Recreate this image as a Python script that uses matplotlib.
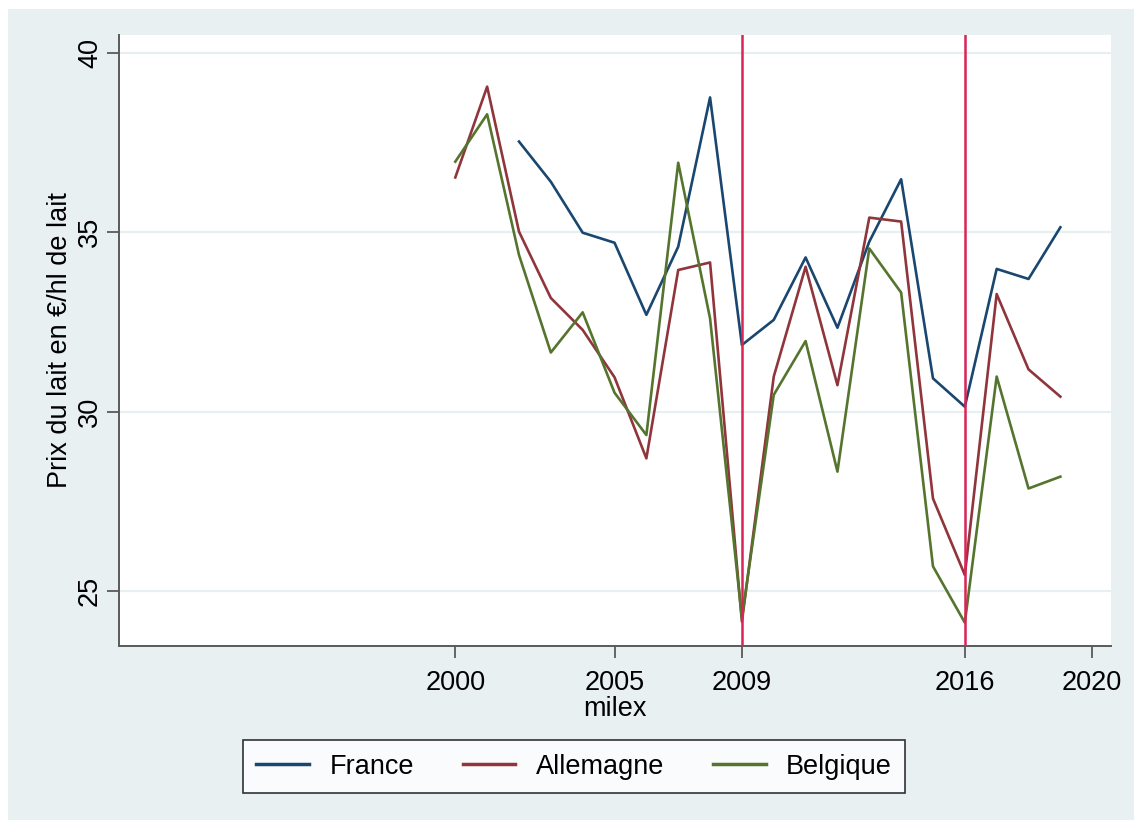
import numpy as np
import matplotlib
matplotlib.use('Agg')
import matplotlib.pyplot as plt
from matplotlib.patches import Rectangle

# ── Data (prix du lait, €/hl) ─────────────────────────────────
years_fr = [2002, 2003, 2004, 2005, 2006, 2007, 2008, 2009, 2010, 2011,
            2012, 2013, 2014, 2015, 2016, 2017, 2018, 2019]
france = [37.53, 36.41, 34.99, 34.71, 32.70, 34.60, 38.76, 31.86, 32.56, 34.30,
          32.34, 34.74, 36.48, 30.93, 30.14, 33.98, 33.70, 35.14]

years_de = [2000, 2001, 2002, 2003, 2004, 2005, 2006, 2007, 2008, 2009,
            2010, 2011, 2012, 2013, 2014, 2015, 2016, 2017, 2018, 2019]
allemagne = [36.53, 39.06, 35.02, 33.17, 32.28, 30.96, 28.70, 33.95, 34.16, 24.15,
             30.98, 34.04, 30.74, 35.41, 35.30, 27.58, 25.45, 33.28, 31.18, 30.42]
belgique = [36.97, 38.29, 34.37, 31.65, 32.77, 30.53, 29.35, 36.94, 32.60, 24.25,
            30.47, 31.97, 28.33, 34.55, 33.32, 25.69, 24.12, 30.98, 27.86, 28.19]

crises = [2009, 2016]
xticks = [2000, 2005, 2009, 2016, 2020]
yticks = [25, 30, 35, 40]

# ── Style ─────────────────────────────────────────────────────
plt.rcParams['font.family'] = ['Liberation Sans', 'DejaVu Sans']
FS = 19.5
C_FR, C_DE, C_BE = '#1a476f', '#90353b', '#55752f'
C_VL = '#db2456'
BG = '#e8f0f2'

fig = plt.figure(figsize=(11.34, 8.23), dpi=100, facecolor='white')
fig.patches.append(Rectangle((8/1134, 3/823), 1 - 8/1134, 1 - 12/823,
                             transform=fig.transFigure, fc=BG, ec='none', zorder=-10))

ax = fig.add_axes([119/1134, 1 - 646/823, (1111 - 119)/1134, (646 - 35)/823])
ax.set_facecolor('white')

for y in yticks:
    ax.axhline(y, color='#e6eff1', lw=1.6, zorder=0)

ax.plot(years_fr, france, color=C_FR, lw=1.9, label='France', zorder=3)
ax.plot(years_de, allemagne, color=C_DE, lw=1.9, label='Allemagne', zorder=3)
ax.plot(years_de, belgique, color=C_BE, lw=1.9, label='Belgique', zorder=3)
for yr in crises:
    ax.axvline(yr, color=C_VL, lw=1.8, zorder=4)

ax.set_xlim(1989.44, 2020.59)
ax.set_ylim(23.47, 40.5)
ax.set_xticks(xticks)
ax.set_yticks(yticks)

for s in ['top', 'right']:
    ax.spines[s].set_visible(False)
for s in ['left', 'bottom']:
    ax.spines[s].set_color('#5a5a5a')
    ax.spines[s].set_linewidth(1.4)

ax.tick_params(axis='x', length=8.5, width=1.3, color='#5a5a5a', labelsize=FS, pad=9)
ax.tick_params(axis='y', length=8.5, width=1.3, color='#5a5a5a', labelsize=FS, pad=3,
               labelrotation=90)
for t in ax.get_yticklabels():
    t.set_va('center')

ax.set_xlabel('milex', fontsize=FS, labelpad=0)
ax.set_ylabel('Prix du lait en €/hl de lait', fontsize=FS, labelpad=3)

leg = fig.legend(loc='center', bbox_to_anchor=(574/1134, 1 - 766.5/823), ncol=3,
                 fontsize=FS, frameon=True, fancybox=False, handlelength=1.95,
                 handletextpad=0.75, columnspacing=1.8, borderpad=0.5)
leg.get_frame().set_edgecolor('black')
leg.get_frame().set_linewidth(1.2)
for h in leg.get_lines():
    h.set_linewidth(2.5)

fig.savefig('out.png', dpi=100, facecolor='white')
